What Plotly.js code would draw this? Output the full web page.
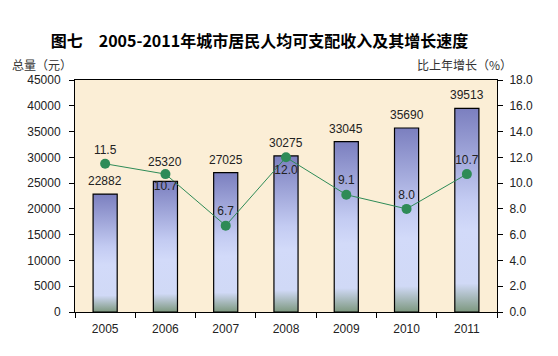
<!DOCTYPE html>
<html><head><meta charset="utf-8">
<script src="https://cdn.plot.ly/plotly-3.0.1.min.js"></script>
<style>html,body{margin:0;padding:0;background:#fff;}#chart{width:558px;height:356px;}</style>
</head><body><div id="chart"></div>
<script>
const years = ['2005','2006','2007','2008','2009','2010','2011'];
const income = [22882, 25320, 27025, 30275, 33045, 35690, 39513];
const growth = [11.5, 10.7, 6.7, 12.0, 9.1, 8.0, 10.7];
const growthLabelPos = ['top center','bottom center','top center','bottom center','top center','top center','top center'];

const tickFont = {family: 'Liberation Sans, Arial, sans-serif', size: 12, color: '#222'};
const labelFont = {family:'Liberation Sans, Arial, sans-serif', size:12, color:'#222'};

const data = [
  {type:'bar', x: years, y: income, width: 0.4,
   marker:{color:'#b8c0ec', line:{color:'#000', width:1.2}},
   hoverinfo:'skip'},
  {type:'scatter', mode:'lines+markers+text', x: years, y: growth, yaxis:'y2',
   line:{color:'#2e8b57', width:1}, marker:{color:'#2e8b57', size:10},
   text: growth.map(v=>v.toFixed(1)), textposition: growthLabelPos, cliponaxis:false,
   textfont: labelFont, hoverinfo:'skip'}
];

// bar value labels as annotations anchored at the bar tops (x = category index)
const barLabels = years.map(function(yr, i){
  return {x: i, y: income[i], xref:'x', yref:'y', text: String(income[i]), showarrow:false,
    yanchor:'bottom', yshift: (i===1 ? 10 : 4), font: labelFont};
});

const layout = {
  width:558, height:356,
  margin:{l:75, r:61, t:80, b:44},
  paper_bgcolor:'#ffffff', plot_bgcolor:'#fbeed6',
  showlegend:false,
  title:{text:'图七　2005-2011年城市居民人均可支配收入及其增长速度', x:0.465, xanchor:'center', y:0.885, yanchor:'middle',
    font:{family:'Noto Sans CJK SC, sans-serif', size:16, color:'#000', weight:'bold'}},
  xaxis:{type:'category', range:[-0.5, 6.5], showline:true, linecolor:'#000', linewidth:1, mirror:true,
    ticks:'outside', tickson:'boundaries', ticklen:5, tickcolor:'#000', tickfont:tickFont, showgrid:false, ticklabelstandoff:6},
  yaxis:{range:[0,45000], dtick:5000, tickformat:'d', showline:true, linecolor:'#000', linewidth:1,
    ticks:'outside', ticklen:5, tickcolor:'#000', tickfont:tickFont, showgrid:false, zeroline:false, ticklabelstandoff:6},
  yaxis2:{range:[0,18], dtick:2, overlaying:'y', side:'right', showline:true, linecolor:'#000', linewidth:1,
    ticks:'outside', ticklen:5, tickcolor:'#000', tickfont:tickFont, tickformat:'.1f', showgrid:false, zeroline:false, ticklabelstandoff:4},
  annotations: barLabels.concat([
    {text:'总量（元）', xref:'paper', yref:'paper', x:-0.155, y:1.065, xanchor:'left', yanchor:'middle', showarrow:false,
     font:{family:'Noto Sans CJK SC, sans-serif', size:12, color:'#333'}},
    {text:'比上年增长（%）', xref:'paper', yref:'paper', x:1.04, y:1.065, xanchor:'right', yanchor:'middle', showarrow:false,
     font:{family:'Noto Sans CJK SC, sans-serif', size:12, color:'#333'}}
  ])
};

Plotly.newPlot('chart', data, layout, {staticPlot:true}).then(function(gd){
  const svg = gd.querySelector('svg.main-svg');
  const ns = 'http://www.w3.org/2000/svg';
  let defs = svg.querySelector('defs');
  if(!defs){ defs = document.createElementNS(ns,'defs'); svg.insertBefore(defs, svg.firstChild); }
  const g = document.createElementNS(ns,'linearGradient');
  g.setAttribute('id','barGrad'); g.setAttribute('x1','0'); g.setAttribute('y1','0'); g.setAttribute('x2','0'); g.setAttribute('y2','1');
  [['0','#7b7fbf'],['0.45','#c3cbf2'],['0.6','#d2daf9'],['0.86','#d0d9f6'],['1','#7d987f']].forEach(function(s){
    const st = document.createElementNS(ns,'stop'); st.setAttribute('offset',s[0]); st.setAttribute('stop-color',s[1]); g.appendChild(st);
  });
  defs.appendChild(g);
  gd.querySelectorAll('.barlayer .point path').forEach(function(p){ p.style.fill = 'url(#barGrad)'; });
});
</script></body></html>
